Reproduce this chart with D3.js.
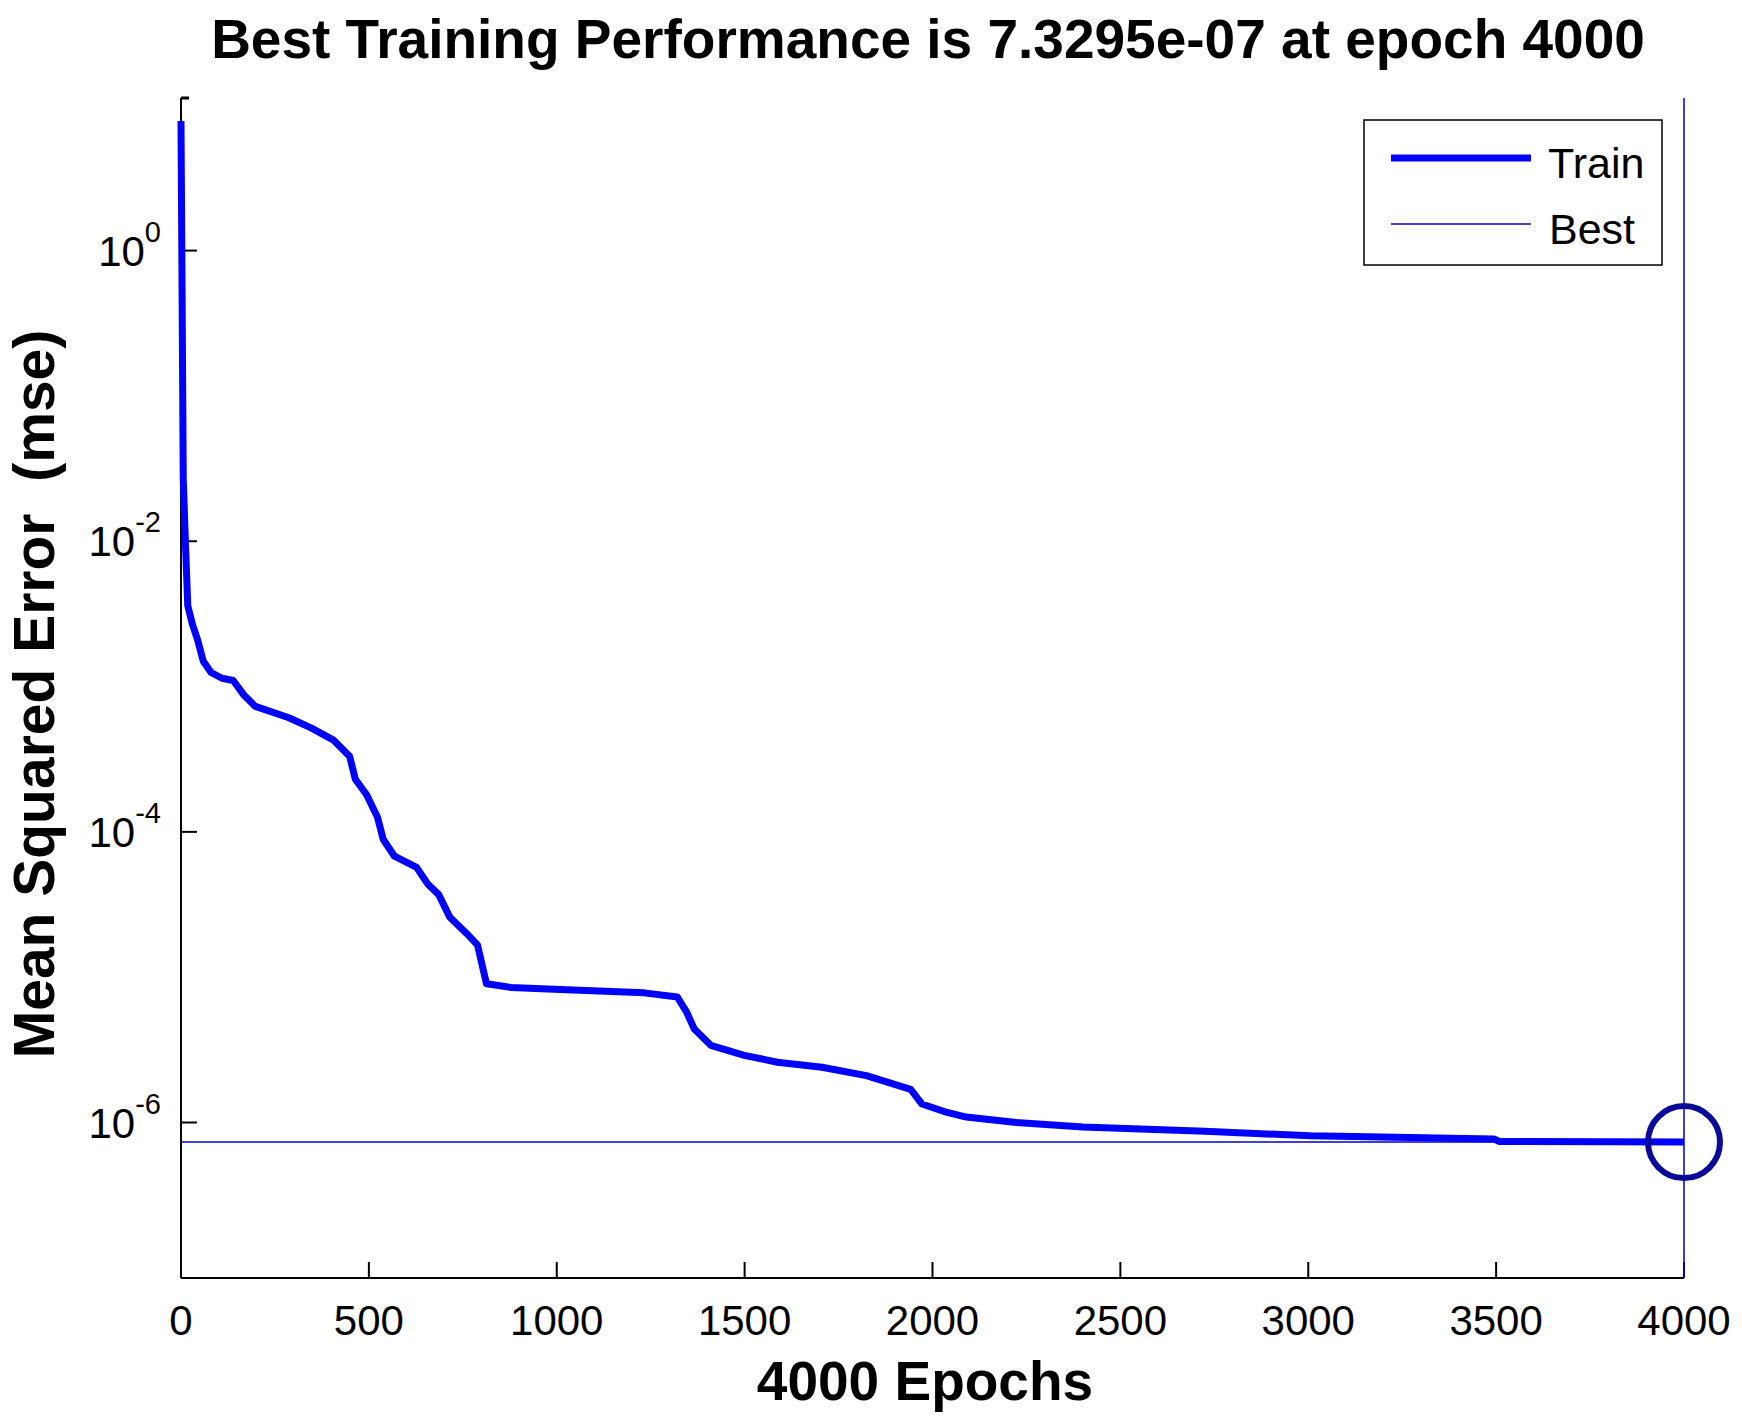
<!DOCTYPE html>
<html>
<head>
<meta charset="utf-8">
<script src="https://cdn.jsdelivr.net/npm/d3@7"></script>
<style>
  body { margin: 0; background: #fff; }
  text { font-family: "Liberation Sans", Arial, sans-serif; }
</style>
</head>
<body>
<svg id="chart" width="1742" height="1417"></svg>
<script>
// Training curve
var epochs = [0, 6, 12, 18, 30, 44, 59, 80, 109, 139, 168, 198, 287, 346, 405, 449, 464, 494, 523, 538,
  568, 627, 656, 686, 715, 760, 789, 813, 878, 1026, 1233, 1321, 1345, 1366, 1410, 1499, 1587, 1706,
  1824, 1942, 1972, 2031, 2090, 2223, 2400, 2725, 3006, 3494, 3509, 4000];
var mse = [7.8, 2.7e-2, 9.4e-3, 3.6e-3, 2.7e-3, 2.1e-3, 1.5e-3, 1.25e-3, 1.14e-3, 1.1e-3, 8.7e-4, 7.3e-4,
  6.1e-4, 5.2e-4, 4.3e-4, 3.3e-4, 2.3e-4, 1.8e-4, 1.26e-4, 8.9e-5, 6.8e-5, 5.7e-5, 4.4e-5, 3.7e-5,
  2.6e-5, 2.0e-5, 1.67e-5, 9.0e-6, 8.5e-6, 8.2e-6, 7.8e-6, 7.3e-6, 5.8e-6, 4.4e-6, 3.4e-6, 2.9e-6,
  2.6e-6, 2.4e-6, 2.1e-6, 1.69e-6, 1.34e-6, 1.19e-6, 1.09e-6, 1.0e-6, 9.3e-7, 8.7e-7, 8.1e-7, 7.7e-7,
  7.4e-7, 7.3295e-7];
var bestEpoch = 4000;
var bestValue = 7.3295e-7;
var xTicks = [0, 500, 1000, 1500, 2000, 2500, 3000, 3500, 4000];
var yTicks = [1, 1e-2, 1e-4, 1e-6];

var svg = d3.select("#chart");
var plotLeft = 181, plotRight = 1684, plotTop = 98, plotBottom = 1278;

var x = d3.scaleLinear().domain([0, 4000]).range([plotLeft, plotRight]);
var y = d3.scaleLog().domain([Math.pow(10, -7.07), Math.pow(10, 1.05)]).range([plotBottom, plotTop]);

// title and axis labels
svg.append("text").attr("x", 928).attr("y", 58).attr("text-anchor", "middle")
  .attr("font-size", 55).attr("font-weight", "bold")
  .text("Best Training Performance is 7.3295e-07 at epoch 4000");
svg.append("text").attr("x", 925).attr("y", 1400).attr("text-anchor", "middle")
  .attr("font-size", 55).attr("font-weight", "bold").text("4000 Epochs");
svg.append("text").attr("transform", "translate(54,694) rotate(-90)").attr("text-anchor", "middle")
  .attr("font-size", 57).attr("font-weight", "bold").text("Mean Squared Error\u00a0 (mse)");

// axes lines
svg.append("line").attr("x1", plotLeft).attr("x2", plotLeft).attr("y1", plotTop).attr("y2", plotBottom)
  .attr("stroke", "#000").attr("stroke-width", 2);
svg.append("line").attr("x1", plotLeft).attr("x2", plotRight).attr("y1", plotBottom).attr("y2", plotBottom)
  .attr("stroke", "#000").attr("stroke-width", 2);

// x ticks
xTicks.forEach(function(t) {
  svg.append("line").attr("x1", x(t)).attr("x2", x(t)).attr("y1", plotBottom).attr("y2", plotBottom - 16)
    .attr("stroke", "#000").attr("stroke-width", 2);
  svg.append("text").attr("x", x(t)).attr("y", plotBottom + 57).attr("text-anchor", "middle")
    .attr("font-size", 42).text(t);
});

// y ticks
yTicks.forEach(function(t) {
  svg.append("line").attr("x1", plotLeft).attr("x2", plotLeft + 16).attr("y1", y(t)).attr("y2", y(t))
    .attr("stroke", "#000").attr("stroke-width", 2);
  var g = svg.append("text").attr("x", plotLeft - 20).attr("y", y(t) + 15).attr("text-anchor", "end")
    .attr("font-size", 42);
  g.append("tspan").text("10");
  g.append("tspan").attr("dy", -24).attr("font-size", 29).text(Math.round(Math.log10(t)));
});
svg.append("line").attr("x1", plotLeft).attr("x2", plotLeft + 8).attr("y1", plotTop).attr("y2", plotTop)
  .attr("stroke", "#000").attr("stroke-width", 3);

// best lines
svg.append("line").attr("x1", plotLeft).attr("x2", plotRight).attr("y1", y(bestValue)).attr("y2", y(bestValue))
  .attr("stroke", "#0000cc").attr("stroke-width", 1.5);
svg.append("line").attr("x1", x(bestEpoch)).attr("x2", x(bestEpoch)).attr("y1", plotTop).attr("y2", plotBottom)
  .attr("stroke", "#0000cc").attr("stroke-width", 1.5);

// train curve
var line = d3.line().x(function(d, i) { return x(epochs[i]); }).y(function(d) { return y(d); });
svg.append("path").datum(mse).attr("d", line).attr("fill", "none")
  .attr("stroke", "#0000ff").attr("stroke-width", 7).attr("stroke-linejoin", "round");

svg.append("circle").attr("cx", x(bestEpoch)).attr("cy", y(bestValue)).attr("r", 36)
  .attr("fill", "none").attr("stroke", "#0a0a99").attr("stroke-width", 6);

// legend
var lg = svg.append("g");
lg.append("rect").attr("x", 1364).attr("y", 120).attr("width", 298).attr("height", 145)
  .attr("fill", "#fff").attr("stroke", "#000").attr("stroke-width", 1.5);
lg.append("line").attr("x1", 1391).attr("x2", 1531).attr("y1", 158).attr("y2", 158)
  .attr("stroke", "#0000ff").attr("stroke-width", 7);
lg.append("line").attr("x1", 1391).attr("x2", 1531).attr("y1", 224).attr("y2", 224)
  .attr("stroke", "#0000cc").attr("stroke-width", 1.5);
lg.append("text").attr("x", 1548).attr("y", 178).attr("font-size", 43).text("Train");
lg.append("text").attr("x", 1549).attr("y", 244).attr("font-size", 43).text("Best");
</script>
</body>
</html>
